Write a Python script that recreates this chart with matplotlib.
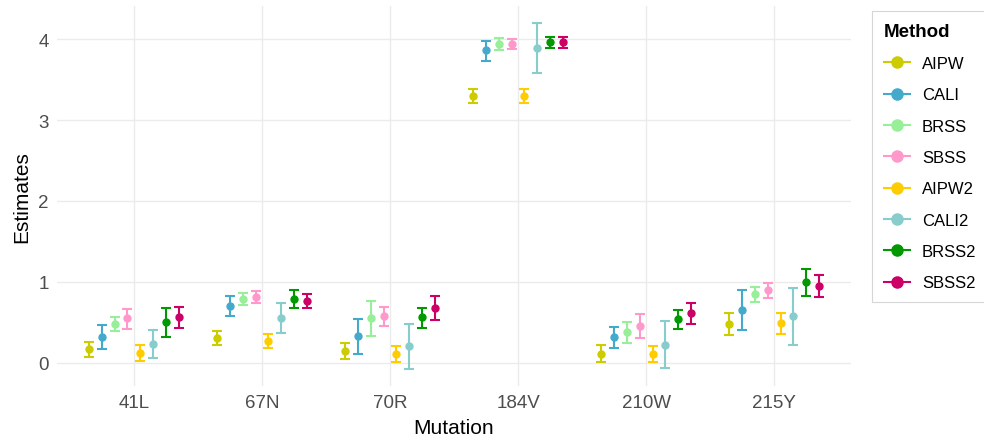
import numpy as np
import matplotlib
matplotlib.use('Agg')
import matplotlib.pyplot as plt
from matplotlib.lines import Line2D

plt.rcParams['font.family'] = ['Liberation Sans', 'DejaVu Sans']

mutations = ['41L', '67N', '70R', '184V', '210W', '215Y']
methods = ['AIPW', 'CALI', 'BRSS', 'SBSS', 'AIPW2', 'CALI2', 'BRSS2', 'SBSS2']
colors = ['#CCCC00', '#44AACC', '#99EE99', '#FF99CC', '#FFCC00', '#88CCCC', '#009900', '#CC0066']

# point estimates, one list per method (order of mutations)
est_aipw = [0.165, 0.30, 0.148, 3.30, 0.107, 0.481]
est_cali = [0.317, 0.704, 0.325, 3.86, 0.317, 0.654]
est_brss = [0.481, 0.790, 0.547, 3.942, 0.379, 0.844]
est_sbss = [0.547, 0.807, 0.576, 3.942, 0.457, 0.893]
est_aipw2 = [0.123, 0.267, 0.107, 3.30, 0.107, 0.490]
est_cali2 = [0.226, 0.547, 0.202, 3.885, 0.222, 0.576]
est_brss2 = [0.498, 0.790, 0.560, 3.967, 0.543, 0.991]
est_sbss2 = [0.564, 0.765, 0.675, 3.959, 0.613, 0.947]

# lower / upper interval limits
lo_aipw = [0.065, 0.214, 0.045, 3.21, 0.004, 0.346]
hi_aipw = [0.255, 0.387, 0.247, 3.383, 0.214, 0.613]
lo_cali = [0.169, 0.576, 0.111, 3.732, 0.185, 0.407]
hi_cali = [0.469, 0.827, 0.543, 3.979, 0.444, 0.893]
lo_brss = [0.395, 0.708, 0.333, 3.864, 0.247, 0.745]
hi_brss = [0.564, 0.860, 0.761, 4.012, 0.506, 0.938]
lo_sbss = [0.420, 0.733, 0.448, 3.872, 0.309, 0.798]
hi_sbss = [0.658, 0.885, 0.691, 4.008, 0.597, 0.984]
lo_aipw2 = [0.025, 0.185, 0.008, 3.21, 0.004, 0.354]
hi_aipw2 = [0.222, 0.350, 0.206, 3.383, 0.210, 0.617]
lo_cali2 = [0.058, 0.362, -0.074, 3.576, -0.062, 0.222]
hi_cali2 = [0.399, 0.733, 0.481, 4.194, 0.510, 0.926]
lo_brss2 = [0.313, 0.679, 0.432, 3.889, 0.420, 0.819]
hi_brss2 = [0.679, 0.897, 0.675, 4.030, 0.654, 1.160]
lo_sbss2 = [0.428, 0.675, 0.531, 3.885, 0.481, 0.811]
hi_sbss2 = [0.691, 0.852, 0.819, 4.030, 0.741, 1.078]

estimates = [est_aipw, est_cali, est_brss, est_sbss, est_aipw2, est_cali2, est_brss2, est_sbss2]
lowers = [lo_aipw, lo_cali, lo_brss, lo_sbss, lo_aipw2, lo_cali2, lo_brss2, lo_sbss2]
uppers = [hi_aipw, hi_cali, hi_brss, hi_sbss, hi_aipw2, hi_cali2, hi_brss2, hi_sbss2]

fig = plt.figure(figsize=(9.84, 4.39), dpi=100)
ax = fig.add_axes([57 / 984, 1 - 387 / 439, (851 - 57) / 984, (387 - 7) / 439])

x = np.arange(1, len(mutations) + 1)
dodge = 0.1
for i, m in enumerate(methods):
    xs = x + (i - 3.5) * dodge
    est = np.array(estimates[i])
    lo = np.array(lowers[i])
    hi = np.array(uppers[i])
    ax.errorbar(xs, est, yerr=[est - lo, hi - est], fmt='o', color=colors[i],
                ms=5, elinewidth=1.5, capsize=3.5, capthick=1.5, label=m, zorder=3)

ax.set_xlim(0.4, 6.6)
ax.set_ylim(-0.29, 4.41)
ax.set_xticks(x)
ax.set_xticklabels(mutations)
ax.set_yticks([0, 1, 2, 3, 4])
ax.grid(True, color='#EBEBEB', lw=1.0, zorder=0)
ax.set_axisbelow(True)
for s in ax.spines.values():
    s.set_visible(False)
ax.tick_params(length=0, labelsize=13.5, labelcolor='#4D4D4D', pad=6)
ax.set_xlabel('Mutation', fontsize=15, labelpad=5)
ax.set_ylabel('Estimates', fontsize=15, labelpad=5)

handles = [Line2D([0], [0], color=c, lw=1.5, marker='o', ms=8) for c in colors]
leg = fig.legend(handles, methods, title='Method', loc='upper left',
                 bbox_to_anchor=(872 / 984, 1 - 12 / 439), fontsize=12,
                 title_fontproperties={'weight': 'bold', 'size': 13.5},
                 frameon=True, fancybox=False, edgecolor='#CCCCCC',
                 handlelength=1.6, handletextpad=0.7, labelspacing=0.98,
                 borderpad=0.7, borderaxespad=0)
leg._legend_box.align = 'left'
leg.get_frame().set_linewidth(0.8)

fig.savefig('out.png', dpi=100)
